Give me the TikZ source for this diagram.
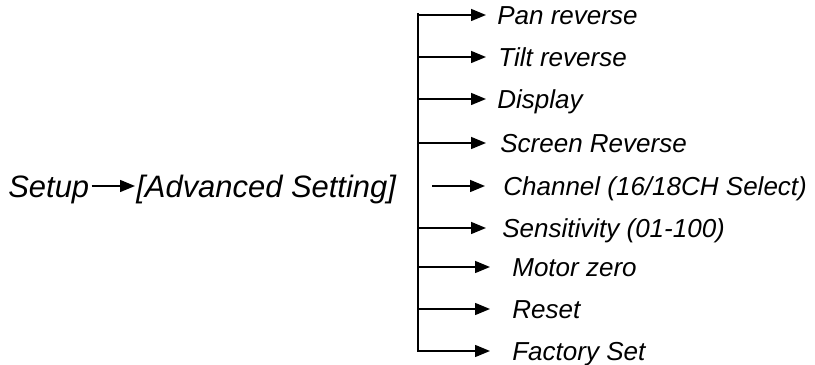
\documentclass[tikz,border=0pt]{standalone}
\usepackage{fontspec}
\setmainfont{Liberation Sans}
\usepackage{tikz}
\usetikzlibrary{arrows.meta}

\tikzset{
    item/.style={anchor=west, inner sep=0pt, text height=10.6pt, text depth=0pt,
        font=\fontsize{14.8}{17}\selectfont\itshape},
    head/.style={anchor=west, inner sep=0pt, text height=12.6pt, text depth=0pt,
        font=\fontsize{17.6}{20}\selectfont\itshape},
    arr/.style={line width=0.85pt, -{Triangle[length=0.3cm,width=0.24cm]}}
}

\begin{document}
\begin{tikzpicture}
    \useasboundingbox (0,0) rectangle (16.3,7.3);

    % the left part
    \node[head] (setup) at (0.16,3.58) {Setup};
    \node[head] (adv) at (2.72,3.58) {[Advanced Setting]};
    \draw[arr, shorten <=0.04cm, shorten >=0.02cm] (setup.east) -- (adv.west);

    % the vertical bar
    \coordinate (top) at (8.36,7.04);
    \coordinate (bot) at (8.36,0.26);
    \draw[line width=1.1pt] (top) -- (bot);

    % the menu entries
    \node[item] (pan) at (9.94,7.00) {Pan reverse};
    \node[item] (tilt) at (9.96,6.16) {Tilt reverse};
    \node[item] (disp) at (9.94,5.32) {Display};
    \node[item] (screen) at (10.00,4.44) {Screen Reverse};
    \node[item] (chan) at (10.06,3.58) {Channel (16/18CH Select)};
    \node[item] (sens) at (10.04,2.74) {Sensitivity (01-100)};
    \node[item] (motor) at (10.24,1.96) {Motor zero};
    \node[item] (reset) at (10.24,1.12) {Reset};
    \node[item] (factory) at (10.24,0.28) {Factory Set};

    % the arrows
    \draw[arr] (top |- pan) -- ([xshift=-0.22cm]pan.west);
    \draw[arr] (top |- tilt) -- ([xshift=-0.24cm]tilt.west);
    \draw[arr] (top |- disp) -- ([xshift=-0.22cm]disp.west);
    \draw[arr] (top |- screen) -- ([xshift=-0.28cm]screen.west);
    \draw[arr, shorten <=0.28cm] (top |- chan) -- ([xshift=-0.36cm]chan.west);
    \draw[arr] (top |- sens) -- ([xshift=-0.32cm]sens.west);
    \draw[arr] (top |- motor) -- ([xshift=-0.44cm]motor.west);
    \draw[arr] (top |- reset) -- ([xshift=-0.44cm]reset.west);
    \draw[arr] (top |- factory) -- ([xshift=-0.44cm]factory.west);
\end{tikzpicture}
\end{document}
